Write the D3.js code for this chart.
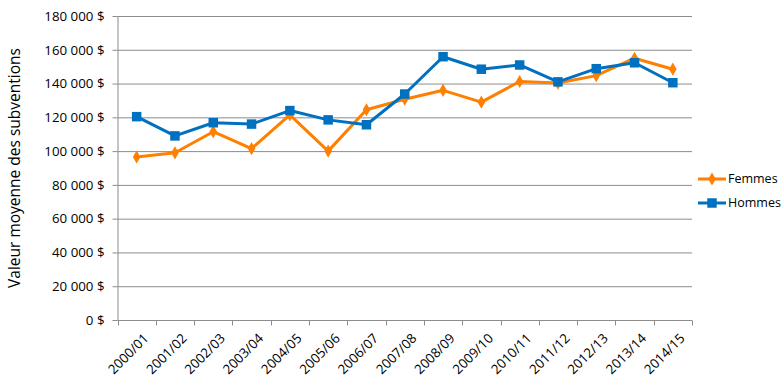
<!DOCTYPE html>
<html><head><meta charset="utf-8">
<script src="https://cdn.jsdelivr.net/npm/d3@7"></script>
<style>body{margin:0;background:#fff}svg{display:block}</style>
</head><body>
<script>
const categories = ["2000/01","2001/02","2002/03","2003/04","2004/05","2005/06","2006/07","2007/08","2008/09","2009/10","2010/11","2011/12","2012/13","2013/14","2014/15"];
const femmes = [96500,99000,111500,101500,121500,100000,124500,130700,136000,129000,141200,140300,144700,155000,148500];
const hommes = [120400,109000,116800,116000,124000,118500,115600,133800,155900,148500,151000,141000,148800,152300,140500];
const yTicks = [0,20000,40000,60000,80000,100000,120000,140000,160000,180000];
const seriesNames = ["Femmes","Hommes"];

const W=783,H=384;
const m={l:117.5,r:692,t:16,b:320};
const svg=d3.select("body").append("svg").attr("width",W).attr("height",H);
const font="'Open Sans', 'Liberation Sans', sans-serif";
const x=d3.scaleBand().domain(categories).range([m.l,m.r]);
const y=d3.scaleLinear().domain([0,180000]).range([m.b,m.t]);
const fmt=v=>d3.format(",")(v).replace(/,/g," ")+" $";

// grid
svg.append("g").selectAll("line").data(yTicks.filter(d=>d>0)).join("line")
 .attr("x1",m.l).attr("x2",m.r).attr("y1",d=>y(d)+0.5).attr("y2",d=>y(d)+0.5)
 .attr("stroke","#8c8c8c").attr("stroke-width",1);

// y axis
const ya=svg.append("g").attr("transform",`translate(${m.l},0)`)
 .call(d3.axisLeft(y).tickValues(yTicks).tickSize(5).tickPadding(8).tickFormat(fmt));
ya.select(".domain").attr("stroke","#8c8c8c").attr("d",`M0.5,${m.t}V${m.b}`);
ya.selectAll(".tick line").attr("stroke","#8c8c8c");
ya.selectAll(".tick text").attr("font-family",font).attr("font-size",13.3).attr("fill","#000");

// x axis
const xa=svg.append("g").attr("transform",`translate(0,${m.b+0.5})`)
 .call(d3.axisBottom(x).tickSize(0).tickFormat(""));
xa.select(".domain").attr("stroke","#8c8c8c").attr("d",`M${m.l},0H${m.r}`);
const bounds=categories.map(c=>x(c)).concat([m.r]);
xa.selectAll(".bt").data(bounds).join("line").attr("class","bt")
 .attr("x1",d=>Math.round(d)+0.5).attr("x2",d=>Math.round(d)+0.5).attr("y1",0).attr("y2",5)
 .attr("stroke","#8c8c8c");
xa.selectAll(".lbl").data(categories).join("text").attr("class","lbl")
 .attr("transform",d=>`translate(${x(d)+x.bandwidth()/2+6},12) rotate(-45)`)
 .attr("text-anchor","end").attr("dy","0.71em")
 .attr("font-family",font).attr("font-size",13.3).attr("fill","#000").text(d=>d);

// y title
svg.append("text").attr("transform",`translate(20,${(m.t+m.b)/2}) rotate(-90)`)
 .attr("text-anchor","middle").attr("font-family",font).attr("font-size",15.5).attr("fill","#000")
 .text("Valeur moyenne des subventions");

const colors={Femmes:"#FF7F00",Hommes:"#0070C0"};
const data={Femmes:femmes,Hommes:hommes};
const cx=d=>x(d)+x.bandwidth()/2;
const line=d3.line().x((d,i)=>cx(categories[i])).y(d=>y(d));
const diamond=d3.symbol().type(d3.symbolDiamond).size(50);
const square=d3.symbol().type(d3.symbolSquare).size(90);

function marker(g,name){
  if(name==="Femmes") g.attr("d",diamond);
  else g.attr("d",square);
}
["Femmes","Hommes"].forEach(name=>{
  svg.append("path").datum(data[name]).attr("d",line).attr("fill","none")
   .attr("stroke",colors[name]).attr("stroke-width",3).attr("stroke-linejoin","round");
  svg.append("g").selectAll("path").data(data[name]).join("path")
   .attr("transform",(d,i)=>`translate(${cx(categories[i])},${y(d)})`)
   .call(g=>marker(g,name)).attr("fill",colors[name]);
});

// legend
const lg=svg.append("g");
seriesNames.forEach((name,i)=>{
  const yy=179+i*24;
  lg.append("line").attr("x1",698).attr("x2",726).attr("y1",yy).attr("y2",yy)
   .attr("stroke",colors[name]).attr("stroke-width",3);
  lg.append("path").attr("transform",`translate(712,${yy})`).call(g=>marker(g,name)).attr("fill",colors[name]);
  lg.append("text").attr("x",728).attr("y",yy).attr("dy","0.35em")
   .attr("font-family",font).attr("font-size",12.5).attr("fill","#000").text(name);
});
</script>
</body></html>
